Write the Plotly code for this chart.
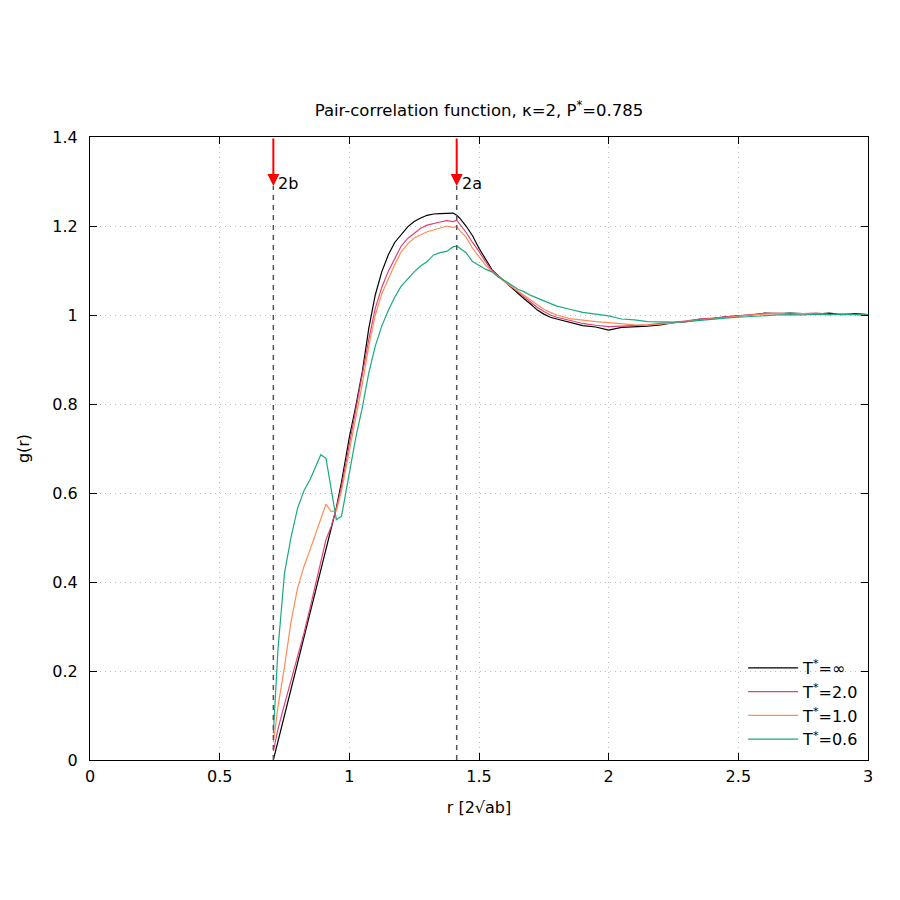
import plotly.graph_objects as go

r = [0.707, 0.725, 0.75, 0.775, 0.80, 0.825, 0.85, 0.87, 0.89, 0.91, 0.93, 0.95, 0.97,
     1.0, 1.025, 1.05, 1.075, 1.10, 1.125, 1.15, 1.175, 1.2, 1.225, 1.25, 1.275, 1.3,
     1.325, 1.35, 1.375, 1.4, 1.414, 1.425, 1.45, 1.475, 1.5, 1.525, 1.55, 1.575, 1.6,
     1.625, 1.65, 1.675, 1.7, 1.725, 1.75, 1.775, 1.8, 1.85, 1.9, 1.95, 2.0, 2.05, 2.1,
     2.15, 2.2, 2.25, 2.3, 2.35, 2.4, 2.45, 2.5, 2.55, 2.6, 2.65, 2.7, 2.75, 2.8, 2.85,
     2.9, 2.95, 3.0]

g_inf = [0.0, 0.042, 0.100, 0.158, 0.217, 0.275, 0.333, 0.380, 0.427, 0.475, 0.522, 0.567, 0.625,
         0.725, 0.795, 0.872, 0.970, 1.045, 1.097, 1.135, 1.163, 1.180, 1.198, 1.210, 1.218, 1.224,
         1.227, 1.228, 1.229, 1.229, 1.224, 1.218, 1.200, 1.178, 1.150, 1.125, 1.102, 1.088, 1.075,
         1.060, 1.048, 1.036, 1.024, 1.011, 1.002, 0.995, 0.991, 0.984, 0.976, 0.973, 0.966, 0.972, 0.973,
         0.975, 0.978, 0.983, 0.985, 0.990, 0.992, 0.996, 0.998, 1.000, 1.004, 1.003, 1.004, 1.003, 1.002, 1.004,
         1.001, 1.003, 1.001]

g_2 = [0.02, 0.07, 0.125, 0.178, 0.23, 0.285, 0.345, 0.395, 0.445, 0.495, 0.525, 0.565, 0.615,
       0.71, 0.785, 0.86, 0.945, 1.015, 1.062, 1.098, 1.128, 1.155, 1.172, 1.184, 1.195, 1.202,
       1.206, 1.209, 1.212, 1.210, 1.213, 1.205, 1.186, 1.163, 1.143, 1.120, 1.100, 1.087, 1.075,
       1.063, 1.052, 1.040, 1.029, 1.017, 1.008, 1.000, 0.995, 0.988, 0.981, 0.977, 0.974, 0.975, 0.976,
       0.978, 0.981, 0.983, 0.987, 0.991, 0.993, 0.996, 0.999, 1.001, 1.003, 1.004, 1.002, 1.003, 1.004, 1.002,
       1.002, 1.001, 1.000]

g_1 = [0.04, 0.12, 0.21, 0.31, 0.385, 0.435, 0.475, 0.51, 0.545, 0.575, 0.558, 0.56, 0.605,
       0.695, 0.77, 0.845, 0.93, 1.000, 1.048, 1.082, 1.113, 1.142, 1.160, 1.173, 1.180, 1.187,
       1.191, 1.196, 1.200, 1.197, 1.199, 1.190, 1.175, 1.150, 1.130, 1.112, 1.098, 1.085, 1.074,
       1.064, 1.054, 1.043, 1.033, 1.022, 1.013, 1.006, 1.000, 0.992, 0.988, 0.985, 0.983, 0.980, 0.978,
       0.977, 0.979, 0.982, 0.986, 0.989, 0.992, 0.995, 0.997, 1.000, 1.002, 1.003, 1.002, 1.003, 1.002, 1.001,
       1.002, 1.001, 1.000]

g_06 = [0.06, 0.25, 0.42, 0.50, 0.565, 0.605, 0.632, 0.66, 0.686, 0.678, 0.605, 0.540, 0.548,
        0.645, 0.725, 0.792, 0.870, 0.930, 0.975, 1.010, 1.040, 1.065, 1.082, 1.097, 1.110, 1.120,
        1.135, 1.140, 1.143, 1.153, 1.155, 1.150, 1.140, 1.120, 1.112, 1.103, 1.097, 1.085, 1.077,
        1.068, 1.058, 1.052, 1.044, 1.038, 1.032, 1.026, 1.020, 1.013, 1.006, 1.002, 0.998, 0.991, 0.989,
        0.985, 0.984, 0.984, 0.985, 0.988, 0.990, 0.993, 0.995, 0.997, 0.998, 1.000, 1.001, 1.000, 1.002, 1.001,
        1.002, 1.001, 1.001]

series_names = ["T<sup>*</sup>=∞", "T<sup>*</sup>=2.0", "T<sup>*</sup>=1.0", "T<sup>*</sup>=0.6"]
series_vals = [g_inf, g_2, g_1, g_06]
colors = ["#000000", "#e0407a", "#ff8c55", "#1aaa80"]

marker_x = [0.707, 1.414]
marker_labels = ["2b", "2a"]

FONT = "DejaVu Sans, Liberation Sans, sans-serif"

fig = go.Figure()
for name, vals, col in zip(series_names, series_vals, colors):
    fig.add_trace(go.Scatter(x=r, y=vals, mode="lines", name=name,
                             line=dict(color=col, width=1.2)))

for mx, lab in zip(marker_x, marker_labels):
    fig.add_shape(type="line", xref="x", yref="y", x0=mx, x1=mx, y0=0, y1=1.29,
                  line=dict(color="#555555", width=1.5, dash="5px,5px"))
    fig.add_annotation(x=mx, y=1.29, xref="x", yref="y", ax=mx, ay=1.4,
                       axref="x", ayref="y", showarrow=True, arrowhead=2,
                       arrowsize=1.2, arrowwidth=2, arrowcolor="#ff0000", text="")
    fig.add_annotation(x=mx, y=1.296, xref="x", yref="y", text=lab, showarrow=False,
                       xanchor="left", yanchor="middle", xshift=3,
                       font=dict(size=16, color="black", family=FONT))

axis_common = dict(showline=True, linecolor="black", linewidth=1, mirror="allticks",
                   ticks="inside", ticklen=7, tickcolor="black",
                   showgrid=True, gridcolor="#bdbdbd", griddash="1px,4px", gridwidth=1,
                   zeroline=False, tickfont=dict(size=16, family=FONT, color="black"))

fig.update_xaxes(range=[0, 3], tickvals=[0, 0.5, 1, 1.5, 2, 2.5, 3],
                 ticktext=["0", "0.5", "1", "1.5", "2", "2.5", "3"],
                 ticklabelstandoff=2,
                 title=dict(text="r [2√ab]", font=dict(size=16, family=FONT, color="black"), standoff=16),
                 **axis_common)
fig.update_yaxes(range=[0, 1.4], tickvals=[0, 0.2, 0.4, 0.6, 0.8, 1.0, 1.2, 1.4],
                 ticktext=["0", "0.2", "0.4", "0.6", "0.8", "1", "1.2", "1.4"],
                 ticklabelstandoff=8,
                 title=dict(text="g(r)", font=dict(size=16, family=FONT, color="black"), standoff=18),
                 **axis_common)

fig.update_layout(
    width=900, height=900,
    margin=dict(l=90, r=32, t=137, b=140),
    plot_bgcolor="white", paper_bgcolor="white",
    title=dict(text="Pair-correlation function, κ=2, P<sup>*</sup>=0.785",
               xref="paper", x=0.5, xanchor="center", y=1 - 110 / 900, yanchor="middle",
               font=dict(size=16.5, family=FONT, color="black")),
    font=dict(family=FONT, color="black"),
    legend=dict(x=0.995, xanchor="right", y=0.005, yanchor="bottom",
                bgcolor="rgba(0,0,0,0)", font=dict(size=16, family=FONT, color="black"),
                tracegroupgap=0, itemwidth=50),
    showlegend=True,
)

fig.write_html("out.html")
